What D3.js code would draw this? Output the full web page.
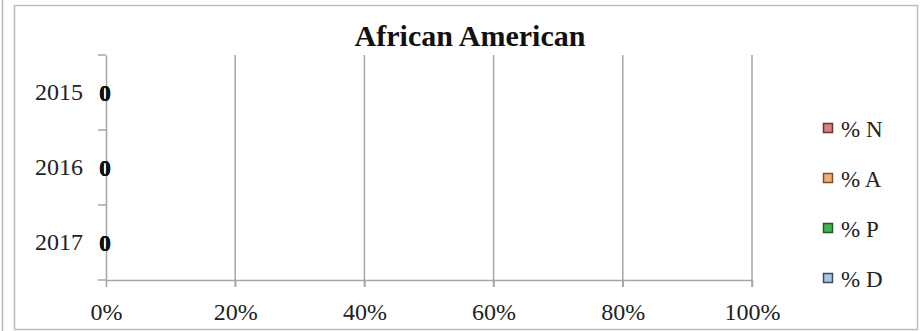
<!DOCTYPE html>
<html>
<head>
<meta charset="utf-8">
<script src="https://cdn.jsdelivr.net/npm/d3@7"></script>
<style>
  body { margin: 0; background: #fff; }
  svg { display: block; }
</style>
</head>
<body>
<svg width="923" height="331"></svg>
<script>
// chart values
var years = ["2015", "2016", "2017"];
var seriesNames = ["% N", "% A", "% P", "% D"];
var seriesColors = ["#dd7f80", "#f7ad6e", "#3fb54d", "#a3c6e8"];
var seriesBorders = ["#6b3536", "#7a5230", "#1f5a26", "#3d4d5e"];
var valN = [0, 0, 0];
var valA = [0, 0, 0];
var valP = [0, 0, 0];
var valD = [0, 0, 0];
var xTicks = [0, 0.2, 0.4, 0.6, 0.8, 1];

var svg = d3.select("svg");
var font = "Liberation Serif, Times New Roman, serif";

// frames
svg.append("line")
  .attr("x1", 2.5).attr("x2", 2.5).attr("y1", 0).attr("y2", 331)
  .attr("stroke", "#b8b8b8").attr("stroke-width", 1.5);
svg.append("rect")
  .attr("x", 14.5).attr("y", 5.5).attr("width", 903).attr("height", 324)
  .attr("fill", "none").attr("stroke", "#bcbcbc").attr("stroke-width", 1.5);

var x = d3.scaleLinear().domain([0, 1]).range([106, 752]);
var y = d3.scaleBand().domain(years).range([55, 280]).padding(0);

// title
svg.append("text")
  .attr("x", 470).attr("y", 46)
  .attr("text-anchor", "middle")
  .style("font-family", font)
  .style("font-weight", "700")
  .style("font-size", "30px")
  .attr("fill", "#111")
  .text("African American");

// vertical gridlines
svg.append("g").selectAll("line")
  .data(xTicks.slice(1))
  .enter().append("line")
  .attr("x1", function(d) { return x(d); })
  .attr("x2", function(d) { return x(d); })
  .attr("y1", 55).attr("y2", 287)
  .attr("stroke", "#a6a6a6").attr("stroke-width", 1.5);

// x axis
var xAxis = svg.append("g")
  .attr("transform", "translate(0,280)")
  .call(d3.axisBottom(x).tickValues(xTicks).tickSize(7).tickSizeOuter(0)
    .tickFormat(d3.format(".0%")));
xAxis.select(".domain").attr("stroke", "#a6a6a6").attr("stroke-width", 1.5);
xAxis.selectAll(".tick line").attr("stroke", "#a6a6a6").attr("stroke-width", 1.5);
xAxis.selectAll("text")
  .attr("font-family", font).attr("font-size", "24px").attr("fill", "#222")
  .attr("dy", 0).attr("y", 40);

// y axis
var yAxis = svg.append("g")
  .attr("transform", "translate(106,0)")
  .call(d3.axisLeft(y).tickSize(0).tickSizeOuter(0).tickPadding(23));
yAxis.select(".domain").attr("stroke", "#a6a6a6").attr("stroke-width", 1.5);
yAxis.selectAll("text")
  .attr("font-family", font).attr("font-size", "24px").attr("fill", "#222");

// band boundary ticks
var bounds = years.map(function(d) { return y(d); }).concat([y.range()[1]]);
svg.append("g").selectAll("line")
  .data(bounds)
  .enter().append("line")
  .attr("x1", 98).attr("x2", 106)
  .attr("y1", function(d) { return d; })
  .attr("y2", function(d) { return d; })
  .attr("stroke", "#a6a6a6").attr("stroke-width", 1.5);

// stacked bars (100%)
var rows = years.map(function(yr, i) {
  return { year: yr, vals: [valN[i], valA[i], valP[i], valD[i]] };
});
rows.forEach(function(r) {
  var total = d3.sum(r.vals);
  var acc = 0;
  r.vals.forEach(function(v, k) {
    var share = total > 0 ? v / total : 0;
    svg.append("rect")
      .attr("x", x(acc))
      .attr("y", y(r.year) + y.bandwidth() * 0.25)
      .attr("width", x(acc + share) - x(acc))
      .attr("height", y.bandwidth() * 0.5)
      .attr("fill", seriesColors[k]);
    svg.append("text")
      .attr("x", x(acc + share / 2) - 1)
      .attr("y", y(r.year) + y.bandwidth() / 2)
      .attr("dy", "0.35em")
      .attr("text-anchor", "middle")
      .attr("font-family", font)
      .attr("font-weight", "bold")
      .attr("font-size", "23px")
      .attr("fill", "#111")
      .text(v);
    acc += share;
  });
});

// legend
var legend = svg.append("g");
seriesNames.forEach(function(name, k) {
  var ly = 129 + k * 50;
  legend.append("rect")
    .attr("x", 823.5).attr("y", ly - 5.5)
    .attr("width", 9).attr("height", 9)
    .attr("fill", seriesColors[k])
    .attr("stroke", seriesBorders[k]).attr("stroke-width", 1.5);
  legend.append("text")
    .attr("x", 841).attr("y", ly)
    .attr("dy", "0.33em")
    .attr("font-family", font).attr("font-size", "23px").attr("fill", "#222")
    .text(name);
});
</script>
</body>
</html>
